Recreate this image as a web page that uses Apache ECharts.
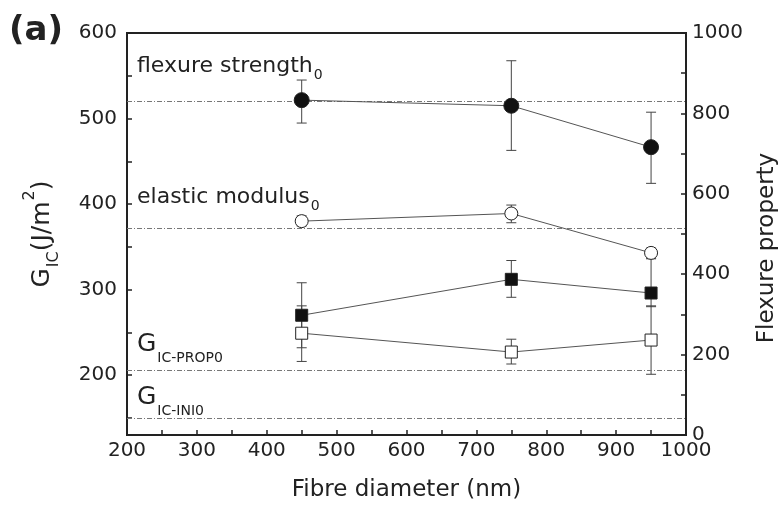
<!DOCTYPE html>
<html lang="en">
<head>
    <meta charset="UTF-8">
    <title>Fibre diameter</title>
    <style>
        body, html {
            margin: 0;
            height: 100%;
            width: 100%;
            background: #fff;
        }
    </style>
</head>
<body>
<div id="main" style="height: 505px; width: 784px;"></div>
<script src="https://cdn.jsdelivr.net/npm/echarts/dist/echarts.min.js"></script>
<script>
    // x positions (nm)
    var diameters = [450, 750, 950];

    // flexure property (right axis)
    var flexStrength = [833, 819, 716];
    var flexStrengthHi = [883, 931, 803];
    var flexStrengthLo = [776, 708, 626];
    var elasticMod = [532, 551, 453];
    var elasticModHi = [545, 572, 465];
    var elasticModLo = [520, 528, 440];

    // G_IC (left axis)
    var gicProp = [270, 312, 296];
    var gicPropHi = [308, 334, 336];
    var gicPropLo = [232, 291, 280];
    var gicIni = [249, 227, 241];
    var gicIniHi = [281, 242, 281];
    var gicIniLo = [216, 213, 201];

    // reference values
    var flexStrength0 = 831;
    var elasticMod0 = 514;
    var gicProp0 = 205.5;
    var gicIni0 = 150;

    var xLabels = [200, 300, 400, 500, 600, 700, 800, 900, 1000];
    var xTicks = [200, 250, 300, 350, 400, 450, 500, 550, 600, 650, 700, 750, 800, 850, 900, 950, 1000];
    var leftLabels = [200, 300, 400, 500, 600];
    var leftTicks = [150, 200, 250, 300, 350, 400, 450, 500, 550, 600];
    var rightLabels = [0, 200, 400, 600, 800, 1000];
    var rightTicks = [0, 100, 200, 300, 400, 500, 600, 700, 800, 900, 1000];

    var FONT = '"DejaVu Sans", Verdana, sans-serif';
    var INK = '#222';

    function zip(vals) {
        return diameters.map(function (d, i) { return [d, vals[i]]; });
    }

    function plain(v) {
        return String(v);
    }

    function errorBars(lo, hi, axisIndex) {
        return {
            type: 'custom',
            yAxisIndex: axisIndex,
            z: 2,
            silent: true,
            data: diameters.map(function (d, i) { return [d, lo[i], hi[i]]; }),
            encode: {x: 0, y: [1, 2]},
            renderItem: function (params, api) {
                var x = api.value(0);
                var a = api.coord([x, api.value(1)]);
                var b = api.coord([x, api.value(2)]);
                var hw = 5;
                var st = {stroke: '#444', lineWidth: 1};
                return {
                    type: 'group',
                    children: [
                        {type: 'line', shape: {x1: a[0], y1: a[1], x2: b[0], y2: b[1]}, style: st},
                        {type: 'line', shape: {x1: a[0] - hw, y1: a[1], x2: a[0] + hw, y2: a[1]}, style: st},
                        {type: 'line', shape: {x1: b[0] - hw, y1: b[1], x2: b[0] + hw, y2: b[1]}, style: st}
                    ]
                };
            }
        };
    }

    function points(vals, axisIndex, symbol, size, filled) {
        return {
            type: 'line',
            yAxisIndex: axisIndex,
            z: 5,
            data: zip(vals),
            symbol: symbol,
            symbolSize: size,
            lineStyle: {color: '#555', width: 1},
            itemStyle: {
                color: filled ? '#111' : '#fff',
                borderColor: '#222',
                borderWidth: 1
            }
        };
    }

    var textRich = {
        t: {fontSize: 22, fontFamily: FONT, color: INK, lineHeight: 28, verticalAlign: 'bottom'},
        s: {fontSize: 14, fontFamily: FONT, color: INK, lineHeight: 28, verticalAlign: 'bottom', padding: [0, 0, -5, 1]},
        g: {fontSize: 25, fontFamily: FONT, color: INK, lineHeight: 28, verticalAlign: 'bottom'},
        gs: {fontSize: 14, fontFamily: FONT, color: INK, lineHeight: 28, verticalAlign: 'bottom', padding: [0, 0, -8, 1]}
    };

    function refLine(value, text, dist) {
        return {
            yAxis: value,
            label: {
                show: true,
                position: 'insideStartTop',
                distance: dist,
                formatter: text,
                rich: textRich
            }
        };
    }

    var refStyle = {color: '#777', width: 1, type: [5, 2, 1, 2]};

    var labelStyle = {fontSize: 20, fontFamily: FONT, color: INK, formatter: plain};

    var myChart = echarts.init(document.getElementById('main'));
    myChart.setOption({
        animation: false,
        backgroundColor: '#fff',
        grid: {
            left: 127, right: 98, top: 33, bottom: 70,
            outerBoundsMode: 'none',
            show: true, borderColor: INK, borderWidth: 2, backgroundColor: 'transparent'
        },
        graphic: [{
            type: 'text', left: 9, top: 14,
            style: {text: '(a)', font: 'bold 34px ' + FONT, fill: INK}
        }],
        xAxis: {
            type: 'value',
            min: 200, max: 1000,
            name: 'Fibre diameter (nm)',
            nameLocation: 'middle',
            nameGap: 44,
            nameTextStyle: {fontSize: 23, fontFamily: FONT, color: INK},
            axisLine: {lineStyle: {color: INK, width: 2}},
            axisTick: {inside: true, length: 5, customValues: xTicks, lineStyle: {color: INK, width: 1.5}},
            axisLabel: Object.assign({customValues: xLabels, margin: 6}, labelStyle),
            splitLine: {show: false}
        },
        yAxis: [{
            type: 'value',
            min: 130, max: 600,
            position: 'left',
            name: '{g|G}{gs|IC}{g|(J/m}{sp|2}{g|)}',
            nameLocation: 'middle',
            nameGap: 72,
            nameTextStyle: {
                fontSize: 25, fontFamily: FONT, color: INK,
                rich: {
                    g: {fontSize: 25, fontFamily: FONT, color: INK, lineHeight: 30, verticalAlign: 'bottom'},
                    gs: {fontSize: 16, fontFamily: FONT, color: INK, lineHeight: 30, verticalAlign: 'bottom', padding: [0, 0, -7, 1]},
                    sp: {fontSize: 16, fontFamily: FONT, color: INK, lineHeight: 30, verticalAlign: 'top', padding: [-3, 0, 0, 1]}
                }
            },
            axisLine: {show: true, lineStyle: {color: INK, width: 2}},
            axisTick: {show: true, inside: true, length: 5, customValues: leftTicks, lineStyle: {color: INK, width: 1.5}},
            axisLabel: Object.assign({customValues: leftLabels, margin: 10}, labelStyle),
            splitLine: {show: false}
        }, {
            type: 'value',
            min: 0, max: 1000,
            position: 'right',
            name: 'Flexure property',
            nameLocation: 'middle',
            nameGap: 70,
            nameTextStyle: {fontSize: 23, fontFamily: FONT, color: INK, padding: [0, 28, 0, 0]},
            axisLine: {show: true, lineStyle: {color: INK, width: 2}},
            axisTick: {show: true, inside: true, length: 5, customValues: rightTicks, lineStyle: {color: INK, width: 1.5}},
            axisLabel: Object.assign({customValues: rightLabels, margin: 6}, labelStyle),
            splitLine: {show: false}
        }],
        series: [
            {
                type: 'line', yAxisIndex: 1, data: [], silent: true,
                markLine: {
                    symbol: 'none', silent: true, lineStyle: refStyle,
                    data: [
                        refLine(flexStrength0, '{t|flexure strength}{s|0}', [10, 24]),
                        refLine(elasticMod0, '{t|elastic modulus}{s|0}', [10, 20])
                    ]
                }
            },
            {
                type: 'line', yAxisIndex: 0, data: [], silent: true,
                markLine: {
                    symbol: 'none', silent: true, lineStyle: refStyle,
                    data: [
                        refLine(gicProp0, '{g|G}{gs|IC-PROP0}', [10, 13]),
                        refLine(gicIni0, '{g|G}{gs|IC-INI0}', [10, 8])
                    ]
                }
            },
            errorBars(flexStrengthLo, flexStrengthHi, 1),
            errorBars(elasticModLo, elasticModHi, 1),
            errorBars(gicPropLo, gicPropHi, 0),
            errorBars(gicIniLo, gicIniHi, 0),
            points(flexStrength, 1, 'circle', 15, true),
            points(elasticMod, 1, 'circle', 13, false),
            points(gicProp, 0, 'rect', 12, true),
            points(gicIni, 0, 'rect', 12, false)
        ]
    });
</script>
</body>
</html>
